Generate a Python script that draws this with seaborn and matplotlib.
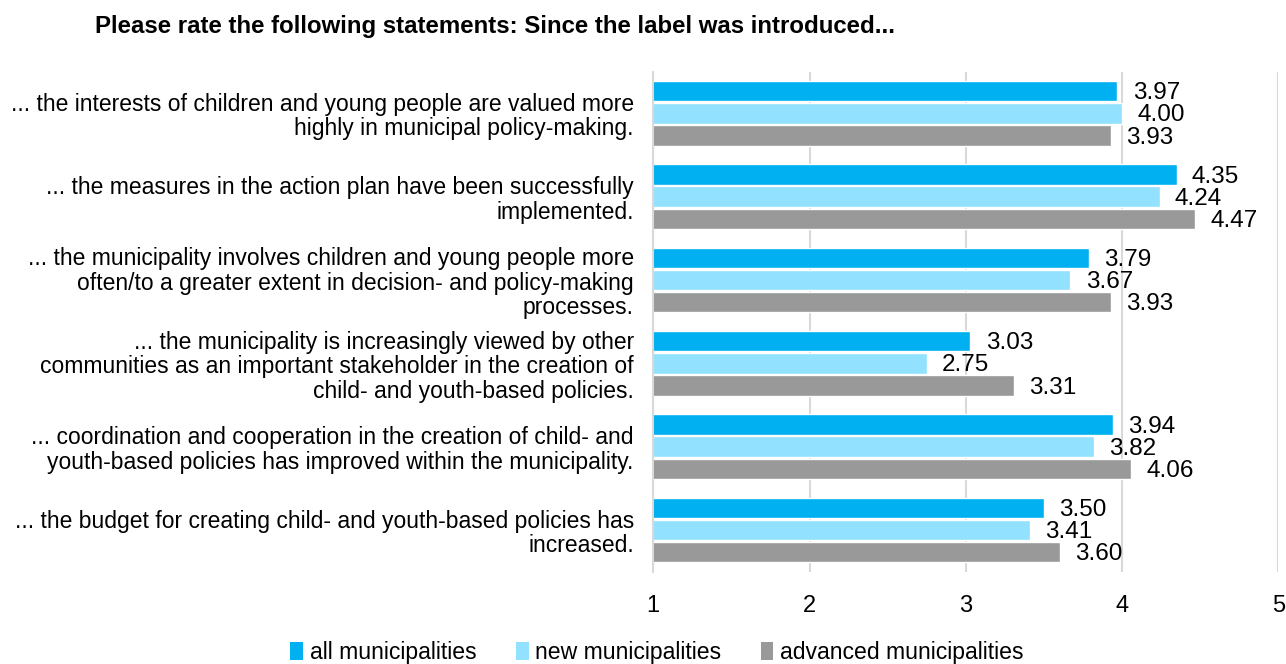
import matplotlib
matplotlib.use("Agg")
import matplotlib.pyplot as plt
import seaborn as sns
import pandas as pd
from matplotlib import font_manager
from matplotlib.patches import Patch

statements = [
    "... the interests of children and young people are valued more\nhighly in municipal policy-making.",
    "... the measures in the action plan have been successfully\nimplemented.",
    "... the municipality involves children and young people more\noften/to a greater extent in decision- and policy-making\nprocesses.",
    "... the municipality is increasingly viewed by other\ncommunities as an important stakeholder in the creation of\nchild- and youth-based policies.",
    "... coordination and cooperation in the creation of child- and\nyouth-based policies has improved within the municipality.",
    "... the budget for creating child- and youth-based policies has\nincreased.",
]
series_names = ["all municipalities", "new municipalities", "advanced municipalities"]
all_vals = [3.97, 4.35, 3.79, 3.03, 3.94, 3.50]
new_vals = [4.00, 4.24, 3.67, 2.75, 3.82, 3.41]
adv_vals = [3.93, 4.47, 3.93, 3.31, 4.06, 3.60]
x_ticks = [1, 2, 3, 4, 5]
title = "Please rate the following statements: Since the label was introduced..."

colors = ["#00B0F0", "#91E1FF", "#999999"]

sns.set_theme(style="white")
names = {f.name for f in font_manager.fontManager.ttflist}
fam = "Liberation Sans Narrow" if "Liberation Sans Narrow" in names else "Liberation Sans"
plt.rcParams["font.family"] = [fam, "DejaVu Sans"]
plt.rcParams["text.color"] = "black"
plt.rcParams["xtick.color"] = "black"
plt.rcParams["ytick.color"] = "black"

rows = []
for s, vals in zip(series_names, [all_vals, new_vals, adv_vals]):
    for st, v in zip(statements, vals):
        rows.append({"statement": st, "series": s, "value": v})
df = pd.DataFrame(rows)

fig = plt.figure(figsize=(12.86, 6.64), dpi=100)
ax = fig.add_axes([0.508, 0.139, 0.486, 0.753])

sns.barplot(data=df, y="statement", x="value", hue="series", order=statements,
            hue_order=series_names, palette=colors, orient="h", width=0.8,
            gap=0.08, ax=ax, legend=False, saturation=1)

ax.set_xlim(1, 5)
ax.set_xticks(x_ticks)
ax.set_xticklabels([str(t) for t in x_ticks], fontsize=17)
ax.set_ylim(5.5, -0.5)
ax.set_yticks(range(len(statements)))
ax.set_yticklabels(statements, fontsize=16.5, linespacing=1.08)
ax.tick_params(axis="y", length=0, pad=14)
ax.tick_params(axis="x", length=0, pad=17)
ax.set_xlabel("")
ax.set_ylabel("")
ax.grid(axis="x", color="#d9d9d9", linewidth=1.5)
ax.set_axisbelow(True)
for sp in ["top", "right", "bottom"]:
    ax.spines[sp].set_visible(False)
ax.spines["left"].set_color("#d9d9d9")
ax.spines["left"].set_linewidth(1.5)

for cont in ax.containers:
    texts = ax.bar_label(cont, labels=[f"{v:.2f}" for v in cont.datavalues], padding=11,
                         fontsize=17.5)
    for t in texts:
        t.xyann = (11, -1.5)

fig.text(0.074, 0.96, title, fontsize=17.3, fontweight="bold", va="center", ha="left")

handles = [Patch(facecolor=c, edgecolor="none") for c in colors]
fig.legend(handles, series_names, loc="center", bbox_to_anchor=(0.511, 0.017),
           ncol=3, frameon=False, fontsize=16.6, handlelength=0.55, handleheight=0.8,
           handletextpad=0.3, columnspacing=1.7)

fig.savefig("out.png", dpi=100)
